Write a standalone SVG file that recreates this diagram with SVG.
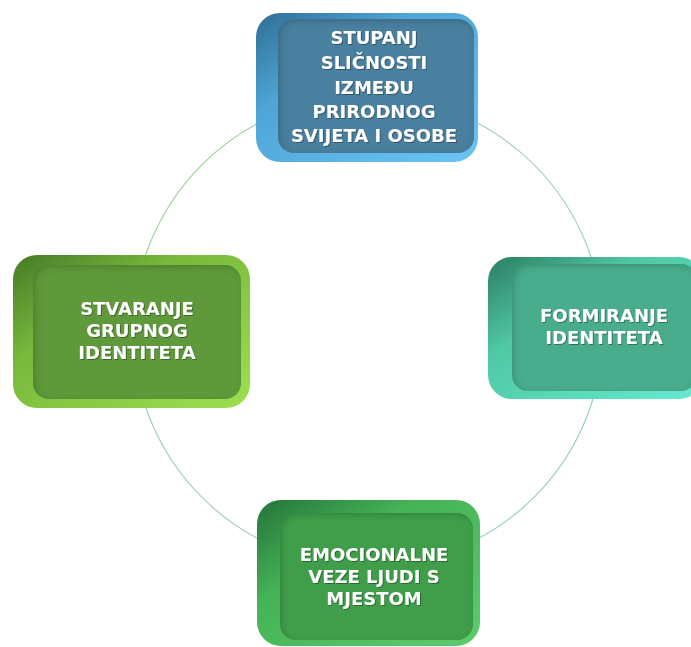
<svg xmlns="http://www.w3.org/2000/svg" width="691" height="647" viewBox="0 0 691 647">
<defs>
<linearGradient id="ring" x1="0" y1="0" x2="1" y2="1">
<stop offset="0" stop-color="#9fd08a"/>
<stop offset="0.5" stop-color="#a9cfc4"/>
<stop offset="1" stop-color="#8fd6b8"/>
</linearGradient>
<linearGradient id="gBlue" x1="0" y1="0" x2="1" y2="1">
<stop offset="0" stop-color="#2f6f95"/>
<stop offset="0.35" stop-color="#4fa6d6"/>
<stop offset="1" stop-color="#6cc4f4"/>
</linearGradient>
<linearGradient id="gTeal" x1="0" y1="0" x2="1" y2="1">
<stop offset="0" stop-color="#2c7c62"/>
<stop offset="0.35" stop-color="#4fc8a4"/>
<stop offset="1" stop-color="#66ead0"/>
</linearGradient>
<linearGradient id="gLime" x1="0" y1="0" x2="1" y2="1">
<stop offset="0" stop-color="#467a26"/>
<stop offset="0.35" stop-color="#78b83c"/>
<stop offset="1" stop-color="#9ee050"/>
</linearGradient>
<linearGradient id="gGreen" x1="0" y1="0" x2="1" y2="1">
<stop offset="0" stop-color="#24743a"/>
<stop offset="0.35" stop-color="#45b257"/>
<stop offset="1" stop-color="#5ccc6c"/>
</linearGradient>
<filter id="ins" x="-10%" y="-10%" width="120%" height="120%">
<feGaussianBlur in="SourceAlpha" stdDeviation="3" result="b"/>
<feOffset dx="2" dy="2" result="o"/>
<feComposite in="SourceAlpha" in2="o" operator="out" result="s"/>
<feFlood flood-color="#000" flood-opacity="0.35"/>
<feComposite in2="s" operator="in" result="sh"/>
<feMerge><feMergeNode in="SourceGraphic"/><feMergeNode in="sh"/></feMerge>
</filter>
<filter id="ts" x="-10%" y="-10%" width="120%" height="130%">
<feDropShadow dx="1" dy="1" stdDeviation="0.6" flood-color="#000" flood-opacity="0.35"/>
</filter>
</defs>
<style>
.lbl{font-family:"DejaVu Sans","Liberation Sans",sans-serif;font-weight:bold;font-size:18px;fill:#ffffff;text-anchor:middle}
</style>
<g id="connectors">
<circle cx="368" cy="331" r="235" fill="none" stroke="url(#ring)" stroke-width="1.2"/>
</g>
<g id="node-top">
<rect x="256" y="13" width="222" height="149" rx="24" fill="url(#gBlue)"/>
<rect x="278" y="19" width="196" height="134" rx="16" fill="#4a7f9f" filter="url(#ins)"/>
<g filter="url(#ts)">
<text x="374" y="44" class="lbl">STUPANJ</text>
<text x="374" y="69" class="lbl">SLIČNOSTI</text>
<text x="374" y="94" class="lbl">IZMEĐU</text>
<text x="374" y="118" class="lbl">PRIRODNOG</text>
<text x="374" y="142" class="lbl">SVIJETA I OSOBE</text>
</g>
</g>
<g id="node-right">
<rect x="488" y="257" width="215" height="142" rx="24" fill="url(#gTeal)"/>
<rect x="512" y="264" width="185" height="127" rx="16" fill="#48ac8c" filter="url(#ins)"/>
<g filter="url(#ts)">
<text x="604" y="322" class="lbl">FORMIRANJE</text>
<text x="604" y="344" class="lbl">IDENTITETA</text>
</g>
</g>
<g id="node-left">
<rect x="13" y="255" width="237" height="153" rx="24" fill="url(#gLime)"/>
<rect x="33" y="265" width="208" height="134" rx="16" fill="#5f993a" filter="url(#ins)"/>
<g filter="url(#ts)">
<text x="137" y="315" class="lbl">STVARANJE</text>
<text x="137" y="337" class="lbl">GRUPNOG</text>
<text x="137" y="359" class="lbl">IDENTITETA</text>
</g>
</g>
<g id="node-bottom">
<rect x="257" y="500" width="223" height="146" rx="24" fill="url(#gGreen)"/>
<rect x="280" y="513" width="193" height="127" rx="16" fill="#3f9e4c" filter="url(#ins)"/>
<g filter="url(#ts)">
<text x="374" y="561" class="lbl">EMOCIONALNE</text>
<text x="374" y="583" class="lbl">VEZE LJUDI S</text>
<text x="374" y="605" class="lbl">MJESTOM</text>
</g>
</g>
</svg>
